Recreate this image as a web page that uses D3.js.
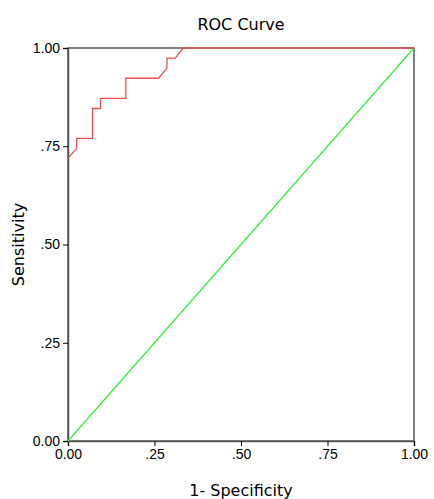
<!DOCTYPE html><html><head><script src="https://cdn.jsdelivr.net/npm/d3@7"></script>
<style>body{margin:0;background:#fff}svg{font-family:"DejaVu Sans",sans-serif}</style></head><body><script>
const fpr=[0,0.025,0.025,0.071,0.071,0.094,0.094,0.167,0.167,0.262,0.286,0.286,0.31,0.333,1];
const tpr=[0.72,0.744,0.77,0.77,0.846,0.846,0.872,0.872,0.923,0.923,0.949,0.974,0.974,1,1];
const ticks=[0,0.25,0.5,0.75,1];
const tickLabels=["0.00",".25",".50",".75","1.00"];
const W=434,H=499,m={l:68,r:20,t:48,b:58};
const svg=d3.select("body").append("svg").attr("width",W).attr("height",H);
const x=d3.scaleLinear().domain([0,1]).range([m.l,W-m.r]);
const y=d3.scaleLinear().domain([0,1]).range([H-m.b,m.t]);
svg.append("rect").attr("x",x(0)).attr("y",y(1)).attr("width",x(1)-x(0)).attr("height",y(0)-y(1)).attr("fill","none").attr("stroke","#555").attr("stroke-width",1.5);
const fmt=d=>tickLabels[ticks.indexOf(d)];
svg.append("g").attr("transform",`translate(0,${y(0)})`).call(d3.axisBottom(x).tickValues(ticks).tickFormat(fmt).tickSize(5)).call(g=>{g.select(".domain").attr("stroke","#555").attr("stroke-width",1.5);g.selectAll("text").attr("font-size",14).attr("fill","#000")});
svg.append("g").attr("transform",`translate(${x(0)},0)`).call(d3.axisLeft(y).tickValues(ticks).tickFormat(fmt).tickSize(5)).call(g=>{g.select(".domain").attr("stroke","#555").attr("stroke-width",1.5);g.selectAll("text").attr("font-size",14).attr("fill","#000")});
svg.append("line").attr("x1",x(0)).attr("y1",y(0)).attr("x2",x(1)).attr("y2",y(1)).attr("stroke","#33ee33").attr("stroke-width",1.2);
svg.append("path").datum(fpr.map((f,i)=>[f,tpr[i]])).attr("d",d3.line().x(d=>x(d[0])).y(d=>y(d[1]))).attr("fill","none").attr("stroke","#f25050").attr("stroke-width",1.3);
svg.append("text").attr("x",(x(0)+x(1))/2).attr("y",30).attr("text-anchor","middle").attr("font-size",16).text("ROC Curve");
svg.append("text").attr("x",(x(0)+x(1))/2).attr("y",496).attr("text-anchor","middle").attr("font-size",16).text("1- Specificity");
svg.append("text").attr("transform",`translate(24,${(y(0)+y(1))/2}) rotate(-90)`).attr("text-anchor","middle").attr("font-size",16).text("Sensitivity");
</script></body></html>
